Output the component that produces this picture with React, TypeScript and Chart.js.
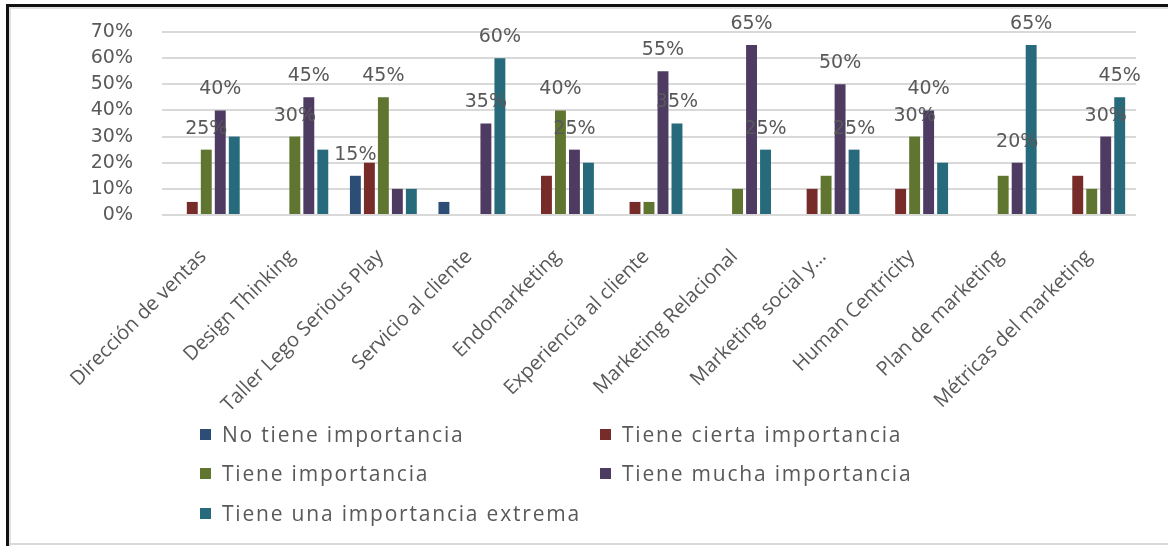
import React, { useEffect, useRef } from "react";
import { Chart, registerables } from "chart.js";

Chart.register(...registerables);

const categories = [
  "Dirección de ventas",
  "Design Thinking",
  "Taller Lego Serious Play",
  "Servicio al cliente",
  "Endomarketing",
  "Experiencia al cliente",
  "Marketing Relacional",
  "Marketing social y…",
  "Human Centricity",
  "Plan de marketing",
  "Métricas del marketing",
];

const seriesNames = [
  "No tiene importancia",
  "Tiene cierta importancia",
  "Tiene importancia",
  "Tiene mucha importancia",
  "Tiene una importancia extrema",
];

const noTiene = [0, 0, 15, 5, 0, 0, 0, 0, 0, 0, 0];
const cierta = [5, 0, 20, 0, 15, 5, 0, 10, 10, 0, 15];
const importancia = [25, 30, 45, 0, 40, 5, 10, 15, 30, 15, 10];
const mucha = [40, 45, 10, 35, 25, 55, 65, 50, 40, 20, 30];
const extrema = [30, 25, 10, 60, 20, 35, 25, 25, 20, 65, 45];

// which bars carry a visible data label
const noTieneLabels = [0, 0, 1, 0, 0, 0, 0, 0, 0, 0, 0];
const ciertaLabels = [0, 0, 0, 0, 0, 0, 0, 0, 0, 0, 0];
const importanciaLabels = [1, 1, 1, 0, 1, 0, 0, 0, 1, 0, 0];
const muchaLabels = [1, 1, 0, 1, 1, 1, 1, 1, 1, 1, 1];
const extremaLabels = [0, 0, 0, 1, 0, 1, 1, 1, 0, 1, 1];

const yTicks = [0, 10, 20, 30, 40, 50, 60, 70];

const colors = ["#2c4d75", "#772c2a", "#5f7530", "#4d3b62", "#276a7c"];

const seriesValues = [noTiene, cierta, importancia, mucha, extrema];
const seriesLabels = [noTieneLabels, ciertaLabels, importanciaLabels, muchaLabels, extremaLabels];

const W = 1168;
const H = 546;

const labelPlugin = {
  id: "barLabels",
  afterDatasetsDraw(chart: any) {
    const ctx = chart.ctx;
    ctx.save();
    ctx.font = "19px 'DejaVu Sans'";
    ctx.fillStyle = "#595959";
    ctx.textAlign = "center";
    ctx.textBaseline = "middle";
    chart.data.datasets.forEach((ds: any, i: number) => {
      const meta = chart.getDatasetMeta(i);
      const flags = seriesLabels[i];
      meta.data.forEach((bar: any, j: number) => {
        if (!flags[j]) return;
        ctx.fillText(ds.data[j] + "%", bar.x, bar.y - 21);
      });
    });
    ctx.restore();
  },
};

export default function App() {
  const ref = useRef<HTMLCanvasElement | null>(null);

  useEffect(() => {
    if (!ref.current) return;
    const chart = new Chart(ref.current, {
      type: "bar",
      data: {
        labels: categories,
        datasets: seriesNames.map((name, i) => ({
          label: name,
          data: seriesValues[i],
          backgroundColor: colors[i],
          borderWidth: 0,
          categoryPercentage: 0.79,
          barPercentage: 0.78,
        })),
      },
      options: {
        responsive: false,
        animation: false,
        layout: { padding: { top: 32, right: 32, left: 0, bottom: 0 } },
        plugins: {
          legend: { display: false },
          tooltip: { enabled: false },
        },
        scales: {
          x: {
            grid: { display: false },
            border: { display: false },
            ticks: {
              autoSkip: false,
              maxRotation: 45,
              minRotation: 45,
              color: "#595959",
              font: { family: "'Open Sans'", size: 20 },
              padding: 22,
              labelOffset: -3,
            },
            afterFit(scale: any) {
              scale.height = H - 215;
            },
          },
          y: {
            min: 0,
            max: 70,
            afterBuildTicks(scale: any) {
              scale.ticks = yTicks.map((v) => ({ value: v }));
            },
            grid: {
              color: "#d9d9d9",
              lineWidth: 2,
              drawTicks: true,
              tickLength: 24,
              tickColor: "rgba(0,0,0,0)",
            },
            border: { display: false },
            ticks: {
              autoSkip: false,
              color: "#595959",
              font: { family: "'DejaVu Sans'", size: 19 },
              padding: 5,
              callback: (v: any) => v + "%",
            },
            afterFit(scale: any) {
              scale.width = 162;
            },
          },
        },
      },
      plugins: [labelPlugin],
    });
    return () => chart.destroy();
  }, []);

  const legendItem = (i: number, left: number, top: number) => (
    <div
      key={i}
      style={{
        position: "absolute",
        left,
        top,
        display: "flex",
        alignItems: "center",
        height: 22,
        whiteSpace: "nowrap",
      }}
    >
      <span style={{ width: 11, height: 11, background: colors[i], display: "inline-block", marginRight: 11 }} />
      <span style={{ fontFamily: "'Open Sans'", fontSize: 21, letterSpacing: 1.8, color: "#595959" }}>{seriesNames[i]}</span>
    </div>
  );

  return (
    <div style={{ position: "absolute", left: 0, top: 0, width: W, height: H, background: "#fff", overflow: "hidden" }}>
      <canvas ref={ref} width={W} height={H} style={{ position: "absolute", left: 0, top: 0 }} />
      {legendItem(0, 200, 423)}
      {legendItem(1, 600, 423)}
      {legendItem(2, 200, 462)}
      {legendItem(3, 600, 462)}
      {legendItem(4, 200, 502)}
      <div style={{ position: "absolute", left: 6, top: 4, width: W - 6, height: 3, background: "#111" }} />
      <div style={{ position: "absolute", left: 6, top: 4, width: 3, height: H - 4, background: "#111" }} />
      <div style={{ position: "absolute", left: 9, top: 7, width: W - 9, height: 2, background: "#e0e0e0" }} />
      <div style={{ position: "absolute", left: 9, top: 7, width: 2, height: H - 7, background: "#e0e0e0" }} />
      <div style={{ position: "absolute", left: 9, top: 543, width: W - 9, height: 2, background: "#d9d9d9" }} />
    </div>
  );
}
